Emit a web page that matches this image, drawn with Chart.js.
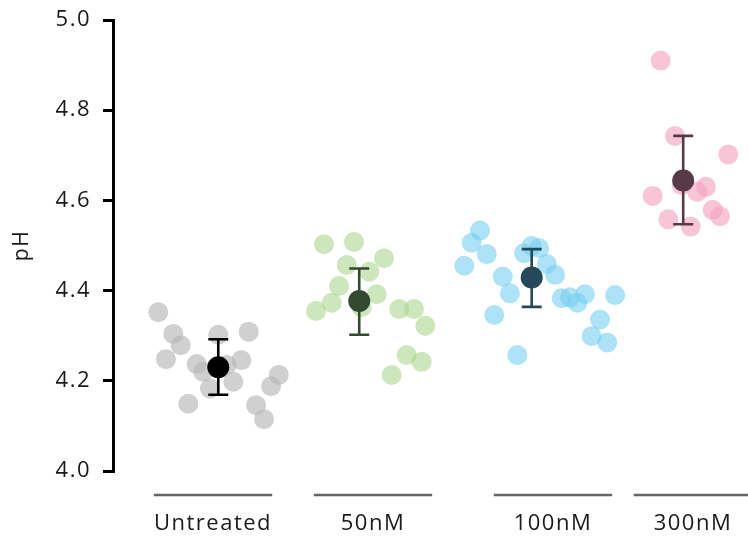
<!DOCTYPE html>
<html>
<head>
<meta charset="utf-8">
<script src="https://cdn.jsdelivr.net/npm/chart.js@4"></script>
<style>
  html, body { margin: 0; background: #fff; overflow: hidden; }
  #wrap { width: 748px; height: 537px; }
  canvas { display: block; }
</style>
</head>
<body>
<div id="wrap"><canvas id="chart"></canvas></div>
<script>
// groups and where they sit on the x axis
const groups = ['Untreated', '50nM', '100nM', '300nM'];
const groupCenters = [1, 2, 3.125, 4];

// individual measurements (x = jittered position, y = pH)
const untreatedX = [0.658, 0.752, 0.798, 0.706, 0.898, 0.939, 1.033, 1.223, 1.177, 1.086, 1.127, 0.981, 0.846, 1.269, 1.363, 1.411, 1.319];
const untreatedY = [4.352, 4.304, 4.279, 4.248, 4.237, 4.220, 4.302, 4.309, 4.246, 4.235, 4.198, 4.183, 4.149, 4.146, 4.188, 4.213, 4.115];

const nm50X = [1.694, 1.881, 1.836, 1.977, 2.069, 1.788, 1.742, 1.644, 2.023, 1.929, 2.164, 2.256, 2.327, 2.211, 2.304, 2.117];
const nm50Y = [4.503, 4.508, 4.457, 4.442, 4.472, 4.410, 4.373, 4.355, 4.392, 4.363, 4.359, 4.359, 4.322, 4.257, 4.242, 4.213];

const nm100X = [2.669, 2.617, 2.711, 2.571, 2.944, 2.992, 3.039, 3.086, 3.138, 2.811, 2.856, 2.758, 2.902, 3.179, 3.231, 3.277, 3.325, 3.513, 3.419, 3.367, 3.464];
const nm100Y = [4.533, 4.506, 4.481, 4.455, 4.483, 4.499, 4.494, 4.459, 4.435, 4.431, 4.394, 4.346, 4.257, 4.383, 4.385, 4.373, 4.392, 4.390, 4.336, 4.299, 4.285];

const nm300X = [3.798, 3.888, 4.221, 3.748, 4.027, 4.081, 4.123, 4.169, 3.846, 3.986, 3.930];
const nm300Y = [4.910, 4.743, 4.702, 4.610, 4.619, 4.630, 4.579, 4.565, 4.558, 4.542, 4.634];

// group summaries
const meanX = [1.033, 1.914, 2.992, 3.939];
const meanY = [4.230, 4.377, 4.429, 4.644];
const errLow = [4.169, 4.302, 4.364, 4.547];
const errHigh = [4.292, 4.449, 4.492, 4.743];

const yTicks = [4.0, 4.2, 4.4, 4.6, 4.8, 5.0];

const pointColors = ['rgba(185,185,187,0.68)', 'rgba(172,214,142,0.6)', 'rgba(118,206,242,0.6)', 'rgba(244,162,190,0.62)'];
const meanColors = ['#000000', '#344a30', '#244a5a', '#563a47'];

function pts(xs, ys) {
    let out = [];
    for (let i = 0; i < xs.length; i++) {
        out.push({x: xs[i], y: ys[i]});
    }
    return out;
}

const FONT = '"Open Sans", "DejaVu Sans", sans-serif';

// error bars go under the mean dots, group lines under the x axis
const extras = {
    id: 'extras',
    beforeDraw(chart) {
        // the reference text is a bit more loosely tracked
        chart.ctx.letterSpacing = '1.5px';
    },
    beforeDatasetDraw(chart, args) {
        if (args.index !== 0) return;
        const ctx = chart.ctx;
        const xs = chart.scales.x;
        const ys = chart.scales.y;
        ctx.save();
        ctx.lineWidth = 2.6;
        for (let i = 0; i < meanX.length; i++) {
            const px = xs.getPixelForValue(meanX[i]);
            const top = ys.getPixelForValue(errHigh[i]);
            const bot = ys.getPixelForValue(errLow[i]);
            ctx.strokeStyle = meanColors[i];
            ctx.beginPath();
            ctx.moveTo(px, top); ctx.lineTo(px, bot);
            ctx.moveTo(px - 10, top); ctx.lineTo(px + 10, top);
            ctx.moveTo(px - 10, bot); ctx.lineTo(px + 10, bot);
            ctx.stroke();
        }
        ctx.restore();
    },
    afterDraw(chart) {
        const ctx = chart.ctx;
        const xs = chart.scales.x;
        const y = chart.chartArea.bottom + 24;
        ctx.save();
        ctx.strokeStyle = '#666666';
        ctx.lineWidth = 2.5;
        for (let i = 0; i < groupCenters.length; i++) {
            ctx.beginPath();
            ctx.moveTo(xs.getPixelForValue(groupCenters[i] - 0.37), y);
            ctx.lineTo(xs.getPixelForValue(groupCenters[i] + 0.37), y);
            ctx.stroke();
        }
        ctx.restore();
        ctx.letterSpacing = '0px';
    }
};

const groupXs = [untreatedX, nm50X, nm100X, nm300X];
const groupYs = [untreatedY, nm50Y, nm100Y, nm300Y];

let datasets = [{
    label: 'mean',
    data: pts(meanX, meanY),
    pointRadius: 11,
    pointBackgroundColor: meanColors,
    pointBorderWidth: 0,
    clip: false
}];
for (let g = 0; g < groups.length; g++) {
    datasets.push({
        label: groups[g],
        data: pts(groupXs[g], groupYs[g]),
        pointRadius: 10,
        pointBackgroundColor: pointColors[g],
        pointBorderWidth: 0,
        clip: false
    });
}

new Chart(document.getElementById('chart'), {
    type: 'scatter',
    data: {datasets: datasets},
    plugins: [extras],
    options: {
        responsive: true,
        maintainAspectRatio: false,
        animation: false,
        layout: {
            autoPadding: false,
            padding: {top: 20, right: 0, left: 0, bottom: 0}
        },
        plugins: {
            legend: {display: false},
            tooltip: {enabled: false}
        },
        scales: {
            x: {
                type: 'linear',
                min: 0.375,
                max: 4.344,
                border: {display: false},
                // invisible tick marks push the labels down instead of tick padding
                grid: {
                    display: true,
                    drawOnChartArea: false,
                    drawTicks: true,
                    tickLength: 40,
                    color: 'rgba(0,0,0,0)'
                },
                afterBuildTicks(scale) {
                    scale.ticks = groupCenters.map(v => ({value: v}));
                },
                afterFit(scale) {
                    scale.height = 66;
                    scale.paddingLeft = 0;
                    scale.paddingRight = 0;
                },
                ticks: {
                    padding: 0,
                    maxRotation: 0,
                    autoSkip: false,
                    color: '#1a1a1a',
                    font: {family: FONT, size: 22},
                    callback: function(v) {
                        const i = groupCenters.indexOf(v);
                        return i >= 0 ? groups[i] : '';
                    }
                }
            },
            y: {
                min: 4.0,
                max: 5.0,
                border: {display: true, color: '#000', width: 3},
                grid: {
                    drawOnChartArea: false,
                    drawTicks: true,
                    tickLength: 10,
                    color: '#000',
                    lineWidth: 3
                },
                afterBuildTicks(scale) {
                    scale.ticks = yTicks.map(v => ({value: v}));
                },
                afterFit(scale) {
                    scale.width = 113;
                    scale.paddingTop = 0;
                    scale.paddingBottom = 0;
                },
                ticks: {
                    padding: 12,
                    color: '#1a1a1a',
                    font: {family: FONT, size: 22},
                    callback: v => v.toFixed(1)
                },
                title: {
                    display: true,
                    text: 'pH',
                    color: '#1a1a1a',
                    font: {family: FONT, size: 21},
                    padding: {top: 9, bottom: 0}
                }
            }
        }
    }
});
</script>
</body>
</html>
